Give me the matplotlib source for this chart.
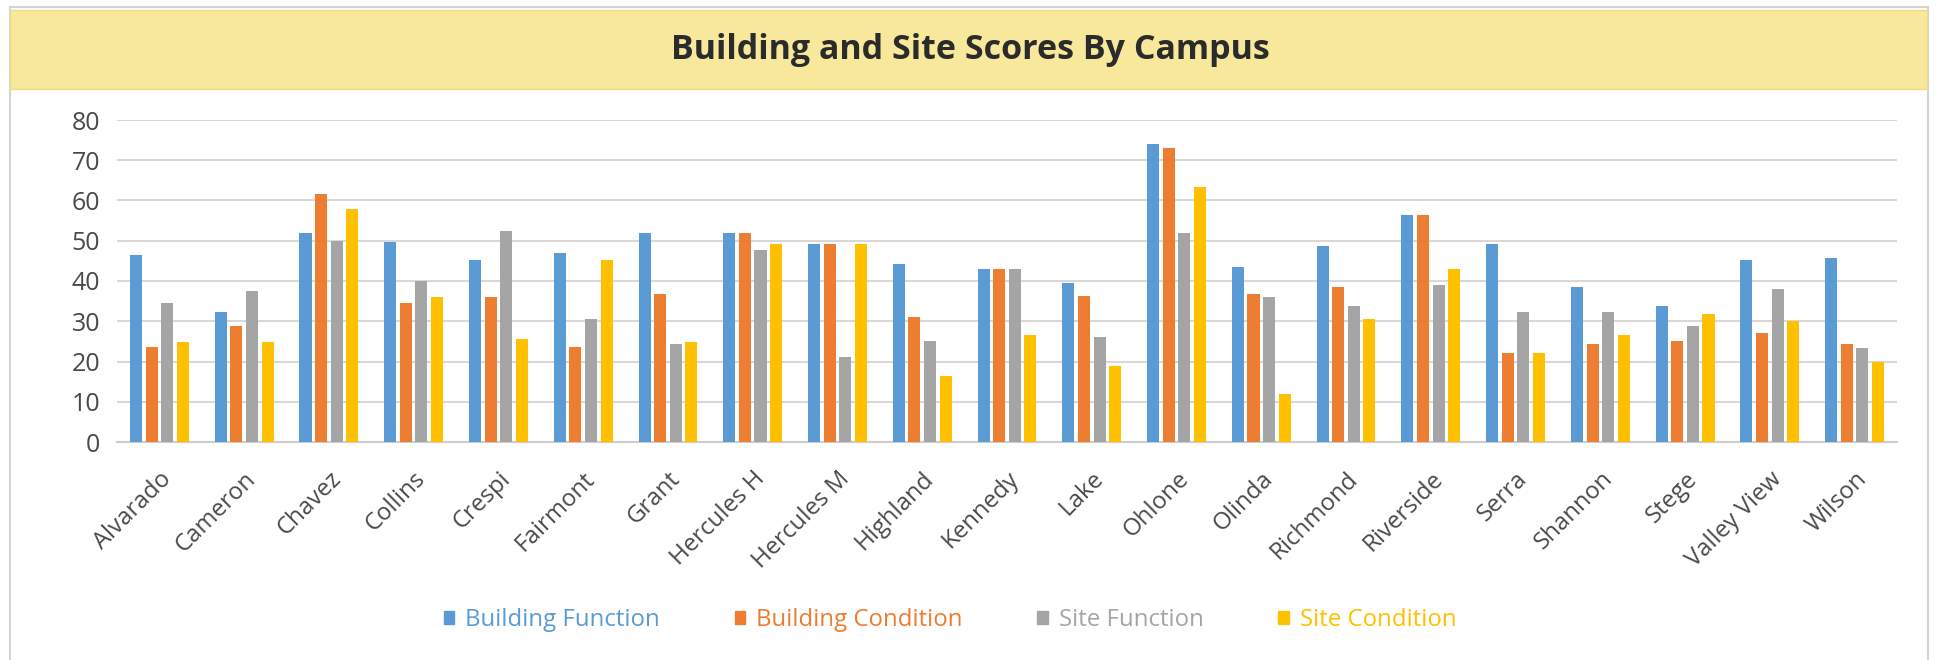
import matplotlib
matplotlib.use("Agg")
import matplotlib.pyplot as plt
from matplotlib.patches import Rectangle
import numpy as np

plt.rcParams['font.family'] = ['Open Sans', 'DejaVu Sans']

campuses = ["Alvarado", "Cameron", "Chavez", "Collins", "Crespi", "Fairmont", "Grant",
            "Hercules H", "Hercules M", "Highland", "Kennedy", "Lake", "Ohlone", "Olinda",
            "Richmond", "Riverside", "Serra", "Shannon", "Stege", "Valley View", "Wilson"]

building_function = [46.4, 32.3, 52.0, 49.8, 45.2, 46.9, 52.0, 52.0, 49.2, 44.3, 43.0,
                     39.6, 74.1, 43.6, 48.6, 56.5, 49.2, 38.5, 33.9, 45.2, 45.8]
building_condition = [23.7, 28.9, 61.5, 34.6, 36.1, 23.7, 36.7, 52.0, 49.2, 31.1, 43.0,
                      36.3, 73.0, 36.7, 38.5, 56.5, 22.1, 24.3, 25.0, 27.2, 24.3]
site_function = [34.5, 37.4, 50.0, 40.1, 52.5, 30.6, 24.3, 47.6, 21.0, 25.0, 43.0,
                 26.1, 52.0, 36.1, 33.9, 39.0, 32.3, 32.3, 28.9, 38.0, 23.3]
site_condition = [24.9, 24.9, 57.8, 36.1, 25.5, 45.2, 24.9, 49.2, 49.2, 16.5, 26.6,
                  18.8, 63.3, 12.0, 30.5, 42.9, 22.1, 26.6, 31.7, 30.0, 19.8]

series_names = ["Building Function", "Building Condition", "Site Function", "Site Condition"]
series_values = [building_function, building_condition, site_function, site_condition]
colors = ["#5B9BD5", "#ED7D31", "#A5A5A5", "#FFC000"]
y_ticks = [0, 10, 20, 30, 40, 50, 60, 70, 80]

W, H = 1937, 660
fig = plt.figure(figsize=(W / 100, H / 100), dpi=100)

# outer frame
fig.patches.append(Rectangle((10 / W, -0.02), (1928 - 10) / W, 1.02 - 7 / H,
                             transform=fig.transFigure, facecolor="none",
                             edgecolor="#D4D4D4", linewidth=1.5, zorder=0))
# title band
fig.patches.append(Rectangle((10 / W, 1 - 89 / H), (1927 - 10) / W, 79 / H,
                             transform=fig.transFigure, facecolor="#F7E89B",
                             edgecolor="#EEDC86", linewidth=1.0, zorder=1))
fig.text(970 / W, 1 - 59 / H, "Building and Site Scores By Campus", ha="center",
         va="baseline", fontsize=24.5, fontweight="bold", color="#2B2B2B")

ax = fig.add_axes([117 / W, 1 - 442 / H, (1897 - 117) / W, (442 - 120) / H])
ax.set_zorder(3)
ax.patch.set_alpha(0)
x = np.arange(len(campuses))
slot = 0.184
bw = 0.142
for i, (name, vals, c) in enumerate(zip(series_names, series_values, colors)):
    ax.bar(x + (i - 1.5) * slot, vals, width=bw, color=c, label=name, zorder=3)

ax.set_xlim(-0.5, len(campuses) - 0.5)
ax.set_ylim(0, 80)
ax.set_yticks(y_ticks)
ax.set_yticklabels([str(t) for t in y_ticks])
ax.yaxis.grid(True, color="#DCD6D6", linewidth=1.5, zorder=0)
ax.set_axisbelow(True)
for s in ["top", "right", "left"]:
    ax.spines[s].set_visible(False)
ax.spines["bottom"].set_color("#D0CCCC")
ax.spines["bottom"].set_linewidth(1.5)
ax.tick_params(axis="y", length=0, pad=12, labelsize=18, labelcolor="#4A4A4A")
ax.tick_params(axis="x", length=0, pad=18, labelsize=17.3, labelcolor="#4A4A4A")
ax.set_xticks(x)
ax.set_xticklabels(campuses, rotation=45, ha="right", rotation_mode="anchor")

handles = [Rectangle((0, 0), 1, 1, color=c) for c in colors]
leg = fig.legend(handles, series_names, loc="center", bbox_to_anchor=(950 / W, 1 - 620 / H),
                 ncol=4, frameon=False, fontsize=17.3, handlelength=0.45, handleheight=0.45,
                 handletextpad=0.45, columnspacing=3.1)
for t, c in zip(leg.get_texts(), colors):
    t.set_color(c)

fig.savefig("out.png", dpi=100)
